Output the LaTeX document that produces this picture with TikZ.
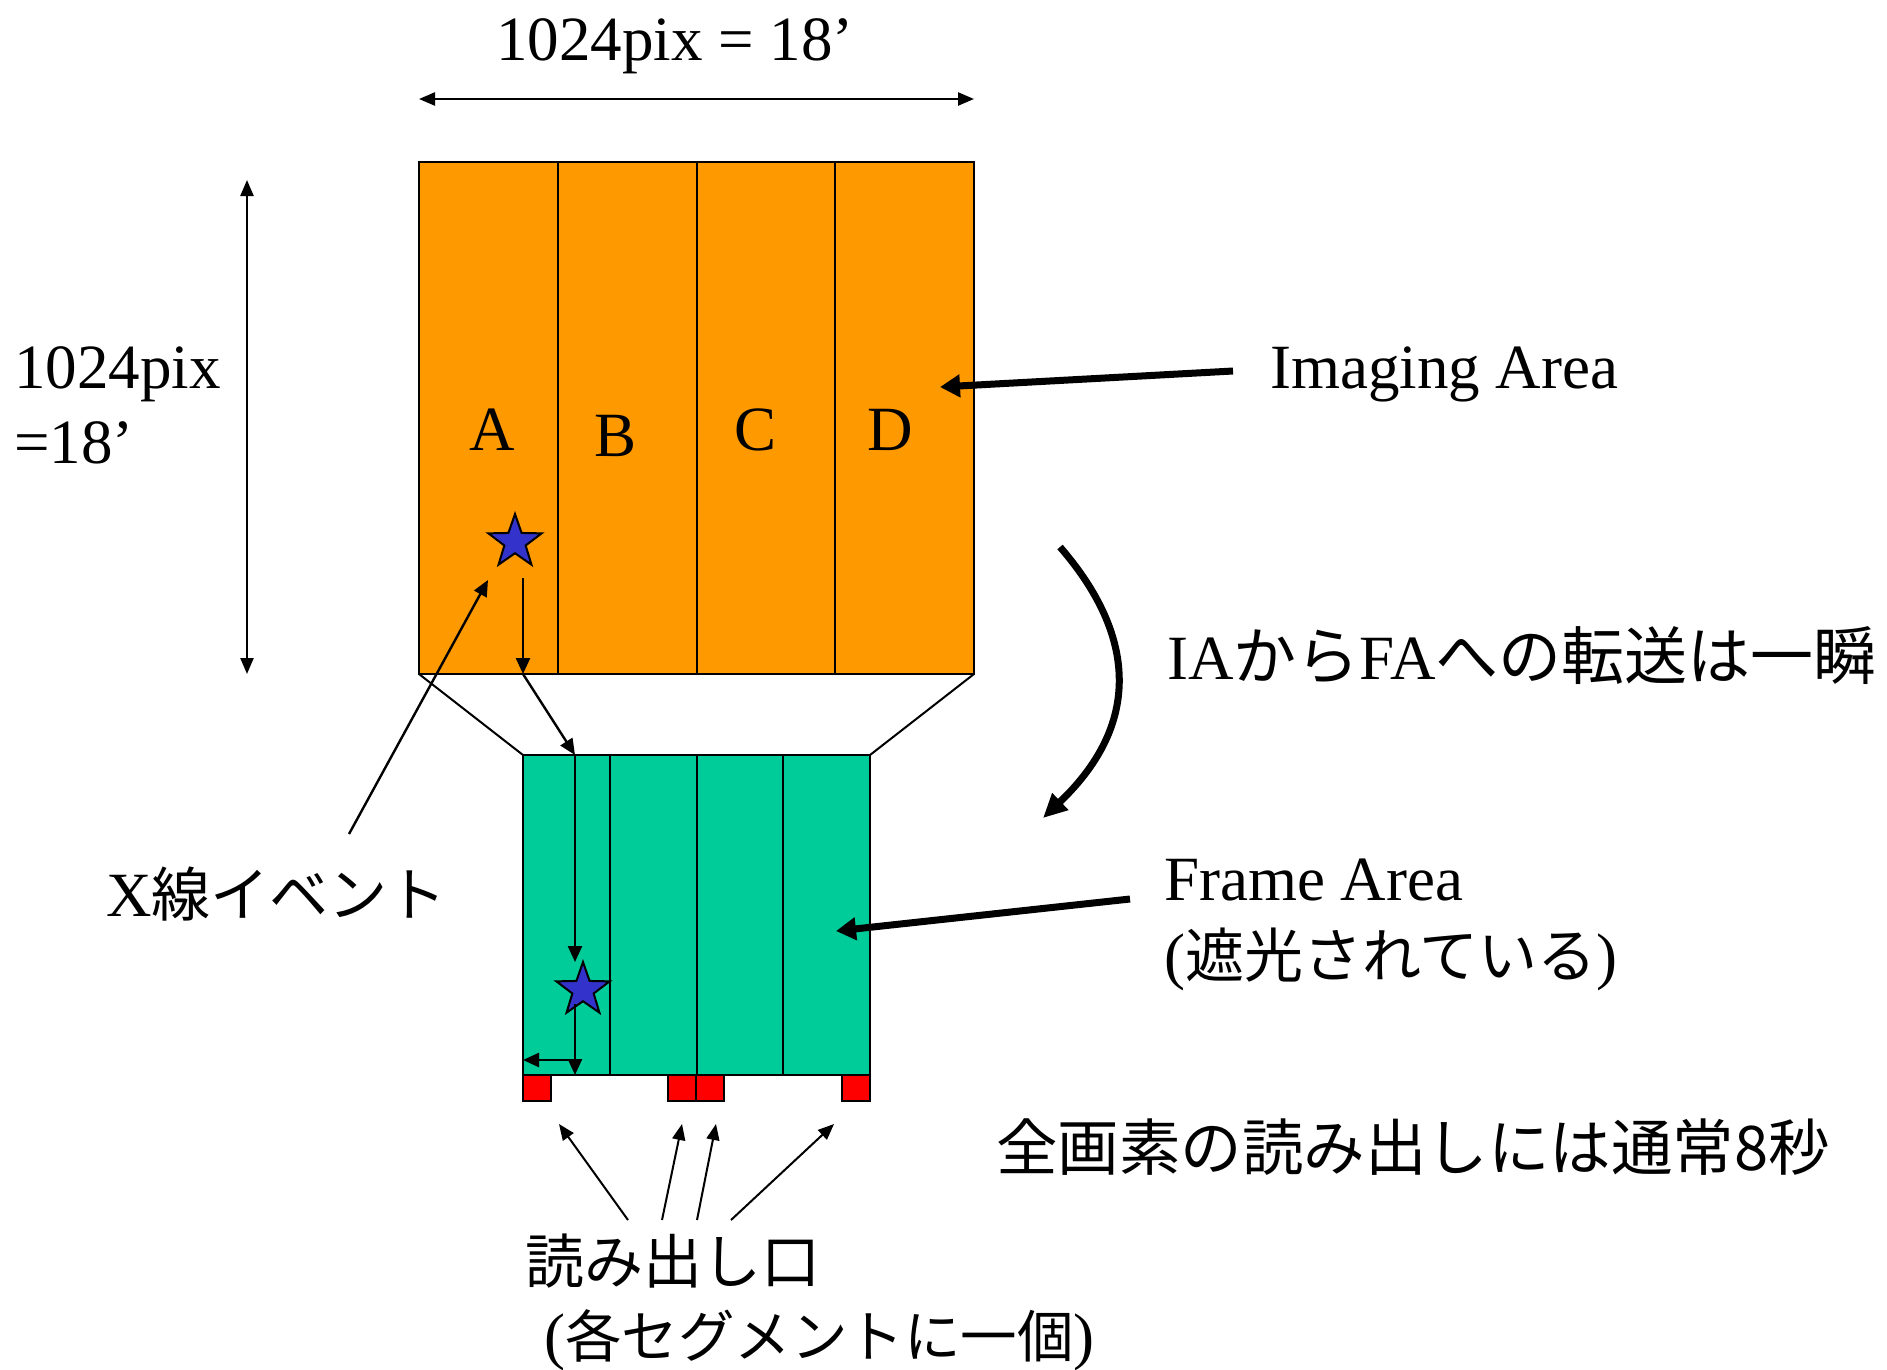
\documentclass[tikz,border=0pt]{standalone}
\usepackage{fontspec}
\setmainfont{Liberation Serif}
\newfontfamily\jp{Noto Sans CJK JP}
\usetikzlibrary{arrows.meta,shapes.geometric}
\definecolor{orng}{RGB}{255,153,0}
\definecolor{grn}{RGB}{0,204,153}
\definecolor{stb}{RGB}{51,51,204}
\definecolor{rd}{RGB}{255,0,0}
\begin{document}
\begin{tikzpicture}[x=1pt,y=-1pt,
  seg/.style={draw=black, line width=2pt, inner sep=0pt, outer sep=0pt},
  iaseg/.style={seg, fill=orng, minimum width=138.75pt, minimum height=512pt},
  faseg/.style={seg, fill=grn, minimum width=86.75pt, minimum height=320pt},
  port/.style={seg, fill=rd, minimum width=28pt, minimum height=26pt},
  event/.style={star, star points=5, star point ratio=2.5, draw=black, line width=2pt, fill=stb, minimum size=56pt, inner sep=0pt},
  lat/.style={inner sep=0pt, font=\fontsize{63}{75}\selectfont},
  jtxt/.style={inner sep=0pt, font=\fontsize{63}{75}\selectfont},
  thin/.style={line width=2.4pt, -{Triangle[length=16pt,width=14pt]}},
  thick/.style={line width=7pt, -{Triangle[length=20pt,width=22pt]}},
]
\useasboundingbox (0,0) rectangle (1887,1369);

% imaging area
\node[iaseg] (A) at (488.375,418) {};
\node[iaseg] (B) at (627.125,418) {};
\node[iaseg] (C) at (765.875,418) {};
\node[iaseg] (D) at (904.625,418) {};
\node[lat] (lA) at (492,430) {A};
\node[lat] (lB) at (616,436) {B};
\node[lat] (lC) at (756,430) {C};
\node[lat] (lD) at (890,430) {D};

% frame area
\node[faseg] (F1) at (566.375,915) {};
\node[faseg] (F2) at (653.125,915) {};
\node[faseg] (F3) at (739.875,915) {};
\node[faseg] (F4) at (826.625,915) {};

% trapezoid
\draw[line width=2pt] (A.south west) -- (F1.north west);
\draw[line width=2pt] (D.south east) -- (F4.north east);

% readout ports
\node[port] (P1) at (537,1088) {};
\node[port] (P2) at (682,1088) {};
\node[port] (P3) at (710,1088) {};
\node[port] (P4) at (856,1088) {};

% stars
\node[event] (S1) at (515,542) {};
\node[event] (S2) at (583,990) {};

% dimension arrows
\coordinate (tl) at (419,99);
\coordinate (tr) at (974,99);
\draw[line width=2.4pt, {Triangle[length=16pt,width=13pt]}-{Triangle[length=16pt,width=13pt]}] (tl) -- (tr);
\coordinate (lt) at (247,180);
\coordinate (lb) at (247,674);
\draw[line width=2.4pt, {Triangle[length=16pt,width=13pt]}-{Triangle[length=16pt,width=13pt]}] (lt) -- (lb);

\node[lat, anchor=base] (wtxt) at (675,60) {1024pix = 18’};
\node[lat, anchor=base west] (htxt1) at (14,388) {1024pix};
\node[lat, anchor=base west] (htxt2) at (14,463) {=18’};

% event path
\coordinate (c1) at (523,578);
\coordinate (c2) at (523,674);
\coordinate (c3) at (575,755);
\coordinate (c4) at (575,962);
\coordinate (c5) at (575,1004);
\coordinate (c6) at (575,1075);
\coordinate (c7) at (575,1060);
\coordinate (c8) at (523,1060);
\draw[thin] (c1) -- (c2);
\draw[thin] (c2) -- (c3);
\draw[thin] (c3) -- (c4);
\draw[thin] (c5) -- (c6);
\draw[thin] (c7) -- (c8);

% X-ray event label
\node[jtxt, anchor=base west] (xev) at (106,916) {X{\jp\fontsize{59}{70}\selectfont 線イベント}};
\coordinate (xs) at (349,834);
\coordinate (xt) at (488,580);
\draw[thin] (xs) -- (xt);

% Imaging Area label
\node[lat, anchor=base west] (ia) at (1270,388) {Imaging Area};
\coordinate (ias) at (1233,371);
\coordinate (iat) at (940,387);
\draw[thick] (ias) -- (iat);

% transfer arrow
\coordinate (ts) at (1060,547);
\coordinate (te) at (1043,818);
\draw[line width=7pt, -{Triangle[length=24pt,width=22pt]}] (ts) .. controls (1132,630) and (1146,720) .. (te);
\node[jtxt, anchor=base west] (tr1) at (1167,679) {IA{\jp\fontsize{63}{70}\selectfont から}FA{\jp\fontsize{63}{70}\selectfont への転送は一瞬}};

% Frame Area label
\node[lat, anchor=base west] (fa) at (1164,900) {Frame Area};
\node[lat, anchor=base west] (fa2) at (1164,977) {({\jp\fontsize{59}{70}\selectfont 遮光されている})};
\coordinate (fas) at (1130,899);
\coordinate (fat) at (836,931);
\draw[thick] (fas) -- (fat);

% readout time
\node[jtxt, anchor=base west] (rt) at (996,1170) {\jp\fontsize{61.5}{70}\selectfont 全画素の読み出しには通常8秒};

% readout ports label
\node[jtxt, anchor=base west] (rp1) at (525,1283) {\jp\fontsize{59}{70}\selectfont 読み出し口};
\node[jtxt, anchor=base west] (rp2) at (544,1357) {({\jp\fontsize{56.5}{70}\selectfont 各セグメントに一個})};
\coordinate (a1s) at (628,1220);
\coordinate (a2s) at (662,1220);
\coordinate (a3s) at (697,1220);
\coordinate (a4s) at (731,1220);
\coordinate (a1t) at (559,1124);
\coordinate (a2t) at (682,1124);
\coordinate (a3t) at (716,1124);
\coordinate (a4t) at (834,1124);
\draw[line width=2pt, -{Triangle[length=16pt,width=13pt]}] (a1s) -- (a1t);
\draw[line width=2pt, -{Triangle[length=16pt,width=13pt]}] (a2s) -- (a2t);
\draw[line width=2pt, -{Triangle[length=16pt,width=13pt]}] (a3s) -- (a3t);
\draw[line width=2pt, -{Triangle[length=16pt,width=13pt]}] (a4s) -- (a4t);
\end{tikzpicture}
\end{document}
